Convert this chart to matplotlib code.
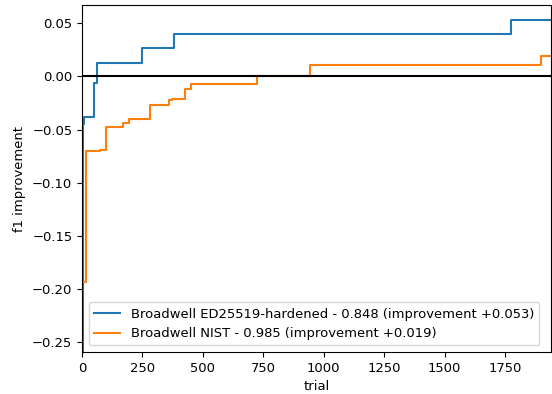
import matplotlib
matplotlib.use("Agg")
import matplotlib.pyplot as plt

plt.rcParams["font.size"] = 9.45

# step data (trial where value changes, value)
ed_trials = [0, 6, 10, 50, 62, 248, 381, 1775, 1940]
ed_values = [-0.27, -0.045, -0.038, -0.0066, 0.013, 0.027, 0.0395, 0.053, 0.053]

nist_trials = [0, 15, 75, 98, 168, 196, 283, 358, 374, 426, 451, 724, 943, 1899, 1940]
nist_values = [-0.193, -0.0705, -0.069, -0.048, -0.044, -0.040, -0.027, -0.0226,
               -0.021, -0.0116, -0.0069, 0.0, 0.0103, 0.019, 0.019]

ed_label = "Broadwell ED25519-hardened - 0.848 (improvement +0.053)"
nist_label = "Broadwell NIST - 0.985 (improvement +0.019)"

fig, ax = plt.subplots(figsize=(5.52, 3.94), dpi=100)
fig.subplots_adjust(left=0.1486, right=0.998, top=0.987, bottom=0.1066)

ax.step(ed_trials, ed_values, where="post", label=ed_label)
ax.step(nist_trials, nist_values, where="post", label=nist_label)
ax.axhline(0, color="black")

ax.set_xlim(0, 1940)
ax.set_ylim(-0.259, 0.067)
ax.set_xlabel("trial")
ax.set_ylabel("f1 improvement")
ax.legend(loc="lower left")

fig.savefig("out.png")
